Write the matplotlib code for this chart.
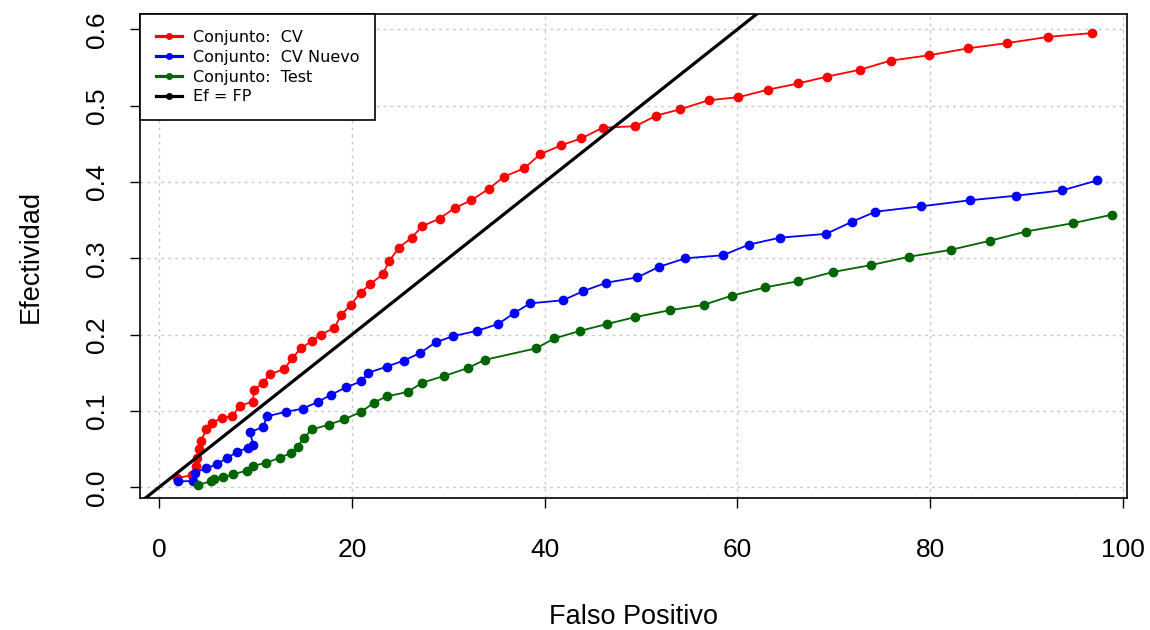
import matplotlib
matplotlib.use("Agg")
import matplotlib.pyplot as plt
from matplotlib.lines import Line2D

# Curvas de efectividad vs falso positivo
cv_x = [1.9, 3.4, 3.8, 3.9, 4.1, 4.4, 4.9, 5.5, 6.5, 7.6,
        8.4, 9.7, 9.9, 10.8, 11.5, 13.0, 13.8, 14.7, 15.9, 16.8,
        18.2, 18.9, 19.9, 20.9, 21.9, 23.2, 23.9, 24.9, 26.2, 27.3,
        29.1, 30.7, 32.4, 34.2, 35.8, 37.9, 39.5, 41.7, 43.8, 46.0,
        49.4, 51.6, 54.0, 57.0, 60.1, 63.2, 66.3, 69.3, 72.7, 75.9,
        79.9, 83.9, 88.0, 92.2, 96.8]
cv_y = [0.012, 0.016, 0.028, 0.039, 0.050, 0.061, 0.076, 0.084, 0.091, 0.093,
        0.107, 0.112, 0.128, 0.137, 0.148, 0.155, 0.169, 0.182, 0.192, 0.200,
        0.209, 0.226, 0.239, 0.255, 0.266, 0.279, 0.297, 0.314, 0.327, 0.342,
        0.352, 0.366, 0.376, 0.391, 0.407, 0.418, 0.436, 0.448, 0.457, 0.471,
        0.473, 0.487, 0.495, 0.507, 0.511, 0.521, 0.529, 0.538, 0.547, 0.559,
        0.566, 0.575, 0.582, 0.590, 0.595]

nuevo_x = [2.0, 3.5, 3.7, 4.9, 6.0, 7.1, 8.1, 9.2, 9.8, 9.4,
           10.8, 11.2, 13.2, 14.9, 16.5, 17.8, 19.4, 21.0, 21.7, 23.6,
           25.4, 27.1, 28.7, 30.5, 33.0, 35.2, 36.8, 38.5, 41.9, 44.0,
           46.4, 49.6, 51.9, 54.6, 58.5, 61.2, 64.4, 69.2, 71.9, 74.3,
           79.0, 84.1, 88.9, 93.7, 97.3]
nuevo_y = [0.008, 0.008, 0.019, 0.025, 0.030, 0.039, 0.046, 0.052, 0.056, 0.072,
           0.079, 0.093, 0.099, 0.103, 0.112, 0.121, 0.131, 0.139, 0.150, 0.158,
           0.166, 0.176, 0.190, 0.198, 0.205, 0.214, 0.228, 0.241, 0.245, 0.257,
           0.268, 0.275, 0.289, 0.300, 0.304, 0.318, 0.327, 0.332, 0.348, 0.361,
           0.368, 0.376, 0.382, 0.389, 0.402]

test_x = [4.0, 5.4, 5.7, 6.6, 7.7, 9.1, 9.7, 11.1, 12.6, 13.7,
          14.4, 15.0, 15.9, 17.6, 19.2, 21.0, 22.3, 23.6, 25.8, 27.3,
          29.6, 32.0, 33.8, 39.1, 41.0, 43.7, 46.5, 49.4, 53.0, 56.5,
          59.4, 62.9, 66.3, 69.9, 73.8, 77.8, 82.1, 86.2, 89.9, 94.8,
          98.8]
test_y = [0.003, 0.008, 0.011, 0.013, 0.017, 0.022, 0.028, 0.032, 0.039, 0.045,
          0.053, 0.065, 0.076, 0.082, 0.089, 0.099, 0.111, 0.119, 0.125, 0.137,
          0.146, 0.156, 0.167, 0.182, 0.195, 0.205, 0.214, 0.223, 0.232, 0.239,
          0.251, 0.262, 0.270, 0.282, 0.291, 0.302, 0.311, 0.323, 0.335, 0.346,
          0.357]

x_ticks = [0, 20, 40, 60, 80, 100]
y_ticks = [0.0, 0.1, 0.2, 0.3, 0.4, 0.5, 0.6]
labels = ["Conjunto:  CV", "Conjunto:  CV Nuevo", "Conjunto:  Test", "Ef = FP"]
colors = ["#ff0000", "#0000ff", "#006400", "#000000"]

plt.rcParams['font.family'] = ['Liberation Sans', 'DejaVu Sans']

fig = plt.figure(figsize=(11.5, 6.3), dpi=100)
ax = fig.add_axes([140 / 1150, 1 - 498 / 630, 987 / 1150, 484 / 630])

# grid like R's grid()
for xt in x_ticks:
    ax.axvline(xt, color="#c8c8c8", lw=1, ls=(0, (2, 3)), zorder=0)
for yt in y_ticks:
    ax.axhline(yt, color="#c8c8c8", lw=1, ls=(0, (2, 3)), zorder=0)

ax.plot(cv_x, cv_y, color=colors[0], marker="o", ms=6, lw=1.3)
ax.plot(nuevo_x, nuevo_y, color=colors[1], marker="o", ms=6, lw=1.3)
ax.plot(test_x, test_y, color=colors[2], marker="o", ms=6, lw=1.3)
ax.axline((0, 0), slope=0.01, color="black", lw=2.3)

ax.set_xlim(-1.97, 100.4)
ax.set_ylim(-0.014, 0.620)
ax.set_xticks(x_ticks)
ax.set_yticks(y_ticks)
ax.set_xticklabels([str(t) for t in x_ticks])
ax.set_yticklabels(["%.1f" % t for t in y_ticks], rotation=90, va="center")
ax.tick_params(axis="both", direction="out", length=7, width=1, labelsize=19, colors="black")
ax.tick_params(axis="x", pad=22)
ax.tick_params(axis="y", pad=15)

for sp in ax.spines.values():
    sp.set_linewidth(1.2)
    sp.set_color("black")

ax.set_xlabel("Falso Positivo", fontsize=19.5, labelpad=30)
ax.set_ylabel("Efectividad", fontsize=19.5, labelpad=30)

handles = [Line2D([], [], color=c, lw=2.3, marker="o", ms=4) for c in colors]
leg = ax.legend(handles, labels, loc="upper left", bbox_to_anchor=(0, 1),
                borderaxespad=0, fancybox=False, framealpha=1, edgecolor="black",
                prop={"family": "DejaVu Sans", "size": 11.5}, handlelength=1.6,
                handletextpad=0.7, labelspacing=0.3, borderpad=1.0)
leg.get_frame().set_linewidth(1.2)

fig.savefig("out.png", dpi=100)
